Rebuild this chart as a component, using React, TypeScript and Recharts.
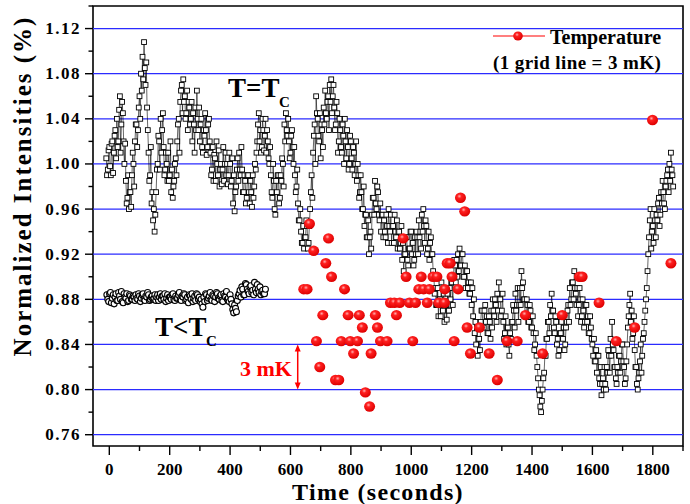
import React from "react";
import {
  ReferenceArea,
  ReferenceLine,
  Scatter,
  ScatterChart,
  XAxis,
  YAxis,
} from "recharts";

const FONT = '"Liberation Serif", "Times New Roman", serif';

// T = Tc run (open squares). Readings every 2.5 s from t = -10:
// tcIntensity holds the readings at -10, -5, 0, ... and tcIntensityB the ones in between.
const tcStart = -10;
const tcStep = 5;
const tcIntensity = [
  /* -10 */ 1.005, 0.995, 1.015, 0.99, 1.02, 1.01, 1.03, 1.04, 1.02, 1.06, 1.035, 1.045,
  /* 50 */ 1.0, 0.985, 0.97, 0.96, 0.975, 0.99,
  /* 80 */ 1.0, 1.02, 1.035,
  /* 95 */ 1.03, 1.06, 1.08, 1.095, 1.108, 1.07, 1.05,
  /* 130 */ 1.01, 0.99, 0.965, 0.95, 0.94, 0.975,
  /* 160 */ 1.0, 1.02, 1.04, 1.03, 1.015, 0.995, 1.0,
  /* 195 */ 1.01, 0.99, 0.975, 0.97, 0.985, 1.005,
  /* 225 */ 1.02, 1.04, 1.055, 1.07, 1.075, 1.06, 1.045, 1.03, 1.05,
  /* 270 */ 1.04, 1.02, 1.035, 1.05, 1.065, 1.03, 1.02, 1.04, 1.01, 1.025, 1.03, 1.015, 1.04,
  /* 335 */ 1.01, 0.995, 0.985, 1.005, 1.02, 0.99, 0.98, 1.0, 0.995, 0.985, 1.01, 1.0, 0.99,
  /* 400 */ 1.0, 0.985, 0.965, 0.958, 0.98, 1.005, 1.01, 0.99, 0.995, 0.975, 0.985, 0.97, 0.99, 0.965, 0.975, 0.99, 0.98, 0.995,
  /* 490 */ 1.02, 1.045, 1.03, 1.015, 1.03, 1.025, 1.01, 1.02, 1.0,
  /* 535 */ 0.99, 0.97, 0.985, 0.955, 0.975, 0.99, 0.97, 0.985, 1.0,
  /* 580 */ 1.035, 1.045, 1.025, 1.02, 1.01, 1.03, 1.0, 0.99, 0.98,
  /* 625 */ 0.965, 0.95, 0.94, 0.93, 0.925, 0.935, 0.945, 0.93,
  /* 665 */ 0.96, 0.99, 1.01, 1.035, 1.06, 1.04, 1.02, 1.005,
  /* 705 */ 1.03, 1.05, 1.065, 1.04, 1.06, 1.07, 1.075, 1.06, 1.05, 1.035, 1.045, 1.02,
  /* 765 */ 1.03, 1.01, 1.025, 1.04, 1.005, 1.015, 1.0, 1.02, 0.995, 1.01, 1.0, 0.985, 0.99, 0.975,
  /* 835 */ 0.975, 0.96, 0.945, 0.955, 0.935, 0.92, 0.94, 0.955, 0.97, 0.985, 0.96, 0.975, 0.95, 0.94, 0.955,
  /* 910 */ 0.95, 0.935, 0.945, 0.96, 0.94, 0.93, 0.945, 0.955, 0.935, 0.925, 0.94,
  /* 965 */ 0.93, 0.915, 0.905, 0.92, 0.935, 0.91, 0.925, 0.94, 0.93, 0.915, 0.92, 0.935, 0.95,
  /* 1030 */ 0.94, 0.955, 0.96, 0.93, 0.945, 0.925, 0.915, 0.935,
  /* 1070 */ 0.92, 0.9, 0.89, 0.875, 0.865, 0.88, 0.895, 0.87, 0.86, 0.875, 0.885, 0.87, 0.88, 0.895, 0.9, 0.91,
  /* 1150 */ 0.915, 0.92, 0.925, 0.91, 0.92, 0.9, 0.89, 0.905, 0.895, 0.885, 0.875,
  /* 1205 */ 0.865, 0.85, 0.84, 0.83, 0.845, 0.86, 0.87, 0.855, 0.875, 0.865, 0.85, 0.86,
  /* 1265 */ 0.87, 0.88, 0.865, 0.875, 0.885, 0.895, 0.88, 0.87, 0.86, 0.85, 0.84, 0.855, 0.83, 0.845, 0.86,
  /* 1340 */ 0.87, 0.885, 0.875, 0.86, 0.89, 0.905, 0.895, 0.88, 0.865, 0.875, 0.86, 0.87, 0.855, 0.85, 0.84,
  /* 1415 */ 0.83, 0.81, 0.795, 0.78, 0.8, 0.815, 0.83,
  /* 1450 */ 0.845, 0.86, 0.875, 0.885, 0.87, 0.85, 0.86, 0.845, 0.835, 0.85, 0.865, 0.855, 0.84, 0.86,
  /* 1520 */ 0.875, 0.89, 0.88, 0.895, 0.905, 0.885, 0.89, 0.875, 0.88, 0.865, 0.87, 0.86, 0.875, 0.865, 0.85,
  /* 1595 */ 0.855, 0.84, 0.845, 0.825, 0.815, 0.83, 0.805, 0.795, 0.81, 0.82, 0.8, 0.815, 0.83,
  /* 1660 */ 0.845, 0.86, 0.835, 0.82, 0.805, 0.815, 0.83, 0.825, 0.84, 0.82, 0.81,
  /* 1715 */ 0.84, 0.865, 0.885, 0.87, 0.85, 0.835, 0.82,
  /* 1750 */ 0.8, 0.815, 0.84, 0.83, 0.85, 0.87, 0.89, 0.92, 0.95,
  /* 1795 */ 0.925, 0.945, 0.96, 0.935, 0.95, 0.97, 0.955, 0.965, 0.975, 0.96, 0.985, 0.995, 1.0, 1.01, 0.99,
];
const tcIntensityB = [
  /* -7.5 */ 0.99, 1.012, 0.998, 1.018, 0.992, 1.025, 1.005, 1.015, 1.048, 1.01, 1.055, 1.02,
  /* 52.5 */ 1.018, 0.965, 0.99, 0.975, 0.962, 1.01,
  /* 82.5 */ 0.98, 1.035, 1.015,
  /* 97.5 */ 1.05, 1.04, 1.065, 1.075, 1.085, 1.09, 1.03,
  /* 132.5 */ 0.985, 1.015, 0.975, 0.96, 0.955, 0.995,
  /* 162.5 */ 1.025, 0.995, 1.01, 1.045, 0.99, 1.01, 0.985,
  /* 197.5 */ 0.985, 1.02, 0.995, 0.98, 1.0, 0.99,
  /* 227.5 */ 1.035, 1.01, 1.065, 1.045, 1.055, 1.04, 1.065, 1.055, 1.035,
  /* 272.5 */ 1.055, 1.045, 1.01, 1.03, 1.04, 1.05, 1.035, 1.015, 1.03, 1.045, 1.008, 1.035, 1.02,
  /* 337.5 */ 0.99, 1.015, 1.008, 0.985, 1.0, 1.012, 0.995, 0.982, 1.015, 1.0, 0.99, 0.982, 1.01,
  /* 402.5 */ 0.98, 1.005, 0.99, 0.975, 0.995, 0.985, 0.995, 1.015, 0.975, 0.99, 0.965, 0.99, 0.975, 0.985, 0.962, 0.97, 1.0, 1.01,
  /* 492.5 */ 1.035, 1.02, 1.01, 1.04, 1.012, 1.04, 1.03, 1.005, 1.015,
  /* 537.5 */ 0.975, 1.0, 0.96, 0.985, 0.99, 0.965, 0.99, 1.005, 0.98,
  /* 582.5 */ 1.02, 1.03, 1.04, 1.005, 1.025, 1.015, 1.015, 0.975, 0.995,
  /* 627.5 */ 0.95, 0.96, 0.93, 0.945, 0.935, 0.95, 0.925, 0.945,
  /* 667.5 */ 0.975, 0.97, 1.025, 1.0, 1.045, 1.025, 1.045, 1.035,
  /* 707.5 */ 1.015, 1.035, 1.045, 1.055, 1.03, 1.055, 1.045, 1.07, 1.03, 1.055, 1.01, 1.04,
  /* 767.5 */ 1.015, 1.035, 1.0, 1.02, 1.03, 0.995, 1.025, 1.005, 1.015, 0.99, 1.02, 1.0, 0.97, 0.99,
  /* 837.5 */ 0.96, 0.98, 0.955, 0.935, 0.95, 0.935, 0.925, 0.97, 0.955, 0.965, 0.98, 0.955, 0.965, 0.955, 0.935,
  /* 912.5 */ 0.94, 0.955, 0.93, 0.945, 0.955, 0.945, 0.93, 0.94, 0.95, 0.94, 0.925,
  /* 967.5 */ 0.945, 0.93, 0.92, 0.935, 0.915, 0.925, 0.94, 0.92, 0.91, 0.935, 0.94, 0.92, 0.935,
  /* 1032.5 */ 0.925, 0.94, 0.945, 0.95, 0.92, 0.94, 0.93, 0.92,
  /* 1072.5 */ 0.905, 0.885, 0.875, 0.89, 0.88, 0.865, 0.875, 0.885, 0.875, 0.862, 0.87, 0.89, 0.895, 0.875, 0.915, 0.895,
  /* 1152.5 */ 0.9, 0.905, 0.91, 0.92, 0.9, 0.91, 0.905, 0.89, 0.885, 0.895, 0.89,
  /* 1207.5 */ 0.88, 0.86, 0.855, 0.845, 0.835, 0.87, 0.855, 0.87, 0.86, 0.85, 0.865, 0.845,
  /* 1267.5 */ 0.855, 0.87, 0.88, 0.86, 0.87, 0.88, 0.865, 0.885, 0.845, 0.865, 0.855, 0.84, 0.85, 0.86, 0.875,
  /* 1342.5 */ 0.855, 0.87, 0.89, 0.875, 0.875, 0.89, 0.88, 0.865, 0.88, 0.86, 0.875, 0.855, 0.865, 0.835, 0.85,
  /* 1417.5 */ 0.82, 0.8, 0.785, 0.79, 0.81, 0.83, 0.845,
  /* 1452.5 */ 0.86, 0.85, 0.865, 0.87, 0.855, 0.865, 0.84, 0.83, 0.85, 0.86, 0.845, 0.835, 0.855, 0.87,
  /* 1522.5 */ 0.86, 0.875, 0.895, 0.88, 0.89, 0.875, 0.865, 0.89, 0.86, 0.88, 0.855, 0.875, 0.86, 0.85, 0.865,
  /* 1597.5 */ 0.845, 0.83, 0.825, 0.835, 0.83, 0.81, 0.82, 0.805, 0.8, 0.805, 0.82, 0.835, 0.815,
  /* 1662.5 */ 0.83, 0.84, 0.82, 0.81, 0.82, 0.83, 0.815, 0.84, 0.825, 0.805, 0.825,
  /* 1717.5 */ 0.855, 0.875, 0.86, 0.845, 0.865, 0.82, 0.805,
  /* 1752.5 */ 0.81, 0.825, 0.815, 0.845, 0.86, 0.88, 0.905, 0.935, 0.96,
  /* 1797.5 */ 0.94, 0.93, 0.95, 0.955, 0.965, 0.945, 0.975, 0.985, 0.965, 0.98, 0.99, 0.975, 0.985, 0.995, 0.98,
];

// T < Tc run (open circles). Readings every 3 s from t = -8, split the same way.
const lowStart = -8;
const lowStep = 6;
const lowIntensity = [
  /* -8 */ 0.884, 0.878, 0.886, 0.881, 0.876, 0.885, 0.879, 0.883, 0.887, 0.877, 0.882, 0.885, 0.879, 0.883, 0.88,
  /* 82 */ 0.882, 0.884, 0.88, 0.883, 0.881, 0.885, 0.879, 0.882, 0.884, 0.88, 0.883, 0.881, 0.879, 0.884, 0.882,
  0.88, 0.883, 0.885, 0.881, 0.879, 0.882, 0.884, 0.88, 0.883, 0.881, 0.886, 0.879, 0.882, 0.884, 0.88, 0.877,
  0.883, 0.885, 0.881, 0.879, 0.884, 0.882,
  /* 304 */ 0.88, 0.873, 0.878, 0.884, 0.881, 0.886, 0.879, 0.883, 0.882, 0.885, 0.88, 0.884, 0.878, 0.883, 0.887, 0.881, 0.884,
  /* 406 */ 0.876, 0.868, 0.872, 0.879,
  /* 430 */ 0.885, 0.882, 0.889, 0.884, 0.893, 0.887, 0.891, 0.886, 0.884, 0.889, 0.893, 0.886, 0.884, 0.888, 0.885,
];
const lowIntensityB = [
  /* -5 */ 0.88, 0.885, 0.877, 0.884, 0.882, 0.879, 0.886, 0.88, 0.878, 0.885, 0.881, 0.878, 0.884, 0.88, 0.883,
  /* 85 */ 0.879, 0.881, 0.885, 0.878, 0.884, 0.88, 0.883, 0.886, 0.879, 0.882, 0.88, 0.884, 0.882, 0.879, 0.885,
  0.883, 0.88, 0.878, 0.884, 0.882, 0.88, 0.885, 0.879, 0.881, 0.884, 0.88, 0.883, 0.885, 0.879, 0.882, 0.884,
  0.88, 0.878, 0.883, 0.885, 0.88, 0.878,
  /* 307 */ 0.876, 0.882, 0.885, 0.879, 0.883, 0.88, 0.884, 0.878, 0.886, 0.881, 0.883, 0.879, 0.885, 0.882, 0.88, 0.878, 0.88,
  /* 409 */ 0.871, 0.875, 0.869, 0.883,
  /* 433 */ 0.888, 0.891, 0.884, 0.894, 0.889, 0.885, 0.892, 0.888, 0.895, 0.886, 0.889, 0.891, 0.887, 0.885, 0.889,
];

// temperature readings (red), plotted on the intensity scale
const tempTimes = [
  644, 655, 663, 677, 686, 697, 707, 717, 726, 736,
  749, 760, 768, 779, 791, 798, 809, 822, 828, 838,
  848, 862, 867, 881, 888, 898, 920, 931, 944, 951,
  962, 973, 983, 994, 1005, 1014, 1025, 1033, 1041, 1053,
  1060, 1072, 1085, 1091, 1110, 1111, 1119, 1129, 1135, 1142,
  1155, 1163, 1177, 1185, 1196, 1226, 1258, 1285, 1317, 1351,
  1378, 1435, 1500, 1557, 1566, 1622, 1679, 1740, 1799, 1860,
];
const tempValues = [
  0.889, 0.889, 0.947, 0.923, 0.843, 0.82, 0.866, 0.912, 0.934, 0.9,
  0.8085, 0.8085, 0.843, 0.889, 0.866, 0.843, 0.832, 0.843, 0.866, 0.855,
  0.7975, 0.785, 0.832, 0.866, 0.855, 0.843, 0.843, 0.877, 0.877, 0.866,
  0.877, 0.934, 0.9, 0.877, 0.843, 0.877, 0.889, 0.9, 0.889, 0.877,
  0.889, 0.9, 0.9, 0.877, 0.877, 0.889, 0.912, 0.912, 0.9, 0.843,
  0.889, 0.97, 0.958, 0.855, 0.832, 0.855, 0.832, 0.8085, 0.843, 0.843,
  0.866, 0.832, 0.866, 0.9, 0.9, 0.877, 0.843, 0.855, 1.039, 0.912,
];

const xTicks = [0, 100, 200, 300, 400, 500, 600, 700, 800, 900, 1000, 1100, 1200, 1300, 1400, 1500, 1600, 1700, 1800, 1900];
const yTicks = [0.76, 0.78, 0.8, 0.82, 0.84, 0.86, 0.88, 0.9, 0.92, 0.94, 0.96, 0.98, 1.0, 1.02, 1.04, 1.06, 1.08, 1.1, 1.12, 1.14];
const yGrid = [0.76, 0.8, 0.84, 0.88, 0.92, 0.96, 1.0, 1.04, 1.08, 1.12];

function interleave(start: number, step: number, a: number[], b: number[]) {
  const out: { t: number; v: number }[] = [];
  a.forEach((v, i) => {
    out.push({ t: start + i * step, v });
    if (i < b.length) out.push({ t: start + i * step + step / 2, v: b[i] });
  });
  return out;
}

const tcData = interleave(tcStart, tcStep, tcIntensity, tcIntensityB);
const lowData = interleave(lowStart, lowStep, lowIntensity, lowIntensityB);
const tempData = tempTimes.map((t, i) => ({ t, v: tempValues[i] }));

function XTick({ x, y, payload }: any) {
  const major = payload.value % 200 === 0;
  return (
    <g>
      <line x1={x} x2={x} y1={y} y2={y + (major ? 9 : 5)} stroke="#000" strokeWidth={1.4} />
      {major && (
        <text x={x} y={y + 29} textAnchor="middle" fontFamily={FONT} fontWeight="bold" fontSize={17} fill="#000">
          {payload.value}
        </text>
      )}
    </g>
  );
}

function YTick({ x, y, payload }: any) {
  const v = payload.value;
  const major = Math.round(v * 100) % 4 === 0;
  return (
    <g>
      <line x1={x} x2={x - (major ? 8 : 4.5)} y1={y} y2={y} stroke="#000" strokeWidth={1.4} />
      {major && (
        <text x={x - 12} y={y + 5.5} textAnchor="end" fontFamily={FONT} fontWeight="bold" fontSize={17} letterSpacing={1.5} fill="#000">
          {v.toFixed(2)}
        </text>
      )}
    </g>
  );
}

const SquareMark = (p: any) => (
  <rect x={p.cx - 2.4} y={p.cy - 2.4} width={4.8} height={4.8} fill="#fff" stroke="#000" strokeWidth={0.9} />
);

const CircleMark = (p: any) => (
  <circle cx={p.cx} cy={p.cy} r={3} fill="#fff" stroke="#000" strokeWidth={1.1} />
);

const BallMark = (p: any) => (
  <ellipse cx={p.cx} cy={p.cy} rx={5.5} ry={5.2} fill="url(#redBall)" />
);

function DoubleArrow(p: any) {
  const { x1, y1, y2 } = p;
  const top = Math.min(y1, y2);
  const bot = Math.max(y1, y2);
  return (
    <g>
      <line x1={x1} x2={x1} y1={top + 4} y2={bot - 4} stroke="#ff0000" strokeWidth={1.5} />
      <path d={`M${x1},${top} L${x1 - 3},${top + 7} L${x1 + 3},${top + 7} Z`} fill="#ff0000" />
      <path d={`M${x1},${bot} L${x1 - 3},${bot - 7} L${x1 + 3},${bot - 7} Z`} fill="#ff0000" />
    </g>
  );
}

export default function App() {
  return (
    <div style={{ position: "absolute", left: 0, top: 0, width: 690, height: 504, background: "#fff" }}>
      <ScatterChart width={690} height={504} margin={{ top: 6, right: 7, left: 0, bottom: 0 }}>
        {yGrid.map((g) => (
          <ReferenceLine key={g} y={g} stroke="#2b2bff" strokeWidth={1.2} />
        ))}
        <XAxis
          type="number"
          dataKey="t"
          domain={[-54, 1900]}
          ticks={xTicks}
          interval={0}
          allowDataOverflow
          height={58}
          axisLine={false}
          tickLine={false}
          tickSize={0}
          tickMargin={0}
          tick={<XTick />}
        />
        <YAxis
          type="number"
          dataKey="v"
          domain={[0.75, 1.14]}
          ticks={yTicks}
          interval={0}
          allowDataOverflow
          width={93}
          axisLine={false}
          tickLine={false}
          tickSize={0}
          tickMargin={0}
          tick={<YTick />}
        />
        <Scatter
          data={tcData}
          shape={SquareMark}
          line={{ stroke: "#000", strokeWidth: 0.6 }}
          lineType="joint"
          isAnimationActive={false}
        />
        <Scatter
          data={lowData}
          shape={CircleMark}
          line={{ stroke: "#000", strokeWidth: 0.5 }}
          lineType="joint"
          isAnimationActive={false}
        />
        <Scatter data={tempData} shape={BallMark} isAnimationActive={false} />
        <ReferenceLine segment={[{ x: 624, y: 0.8 }, { x: 624, y: 0.84 }]} shape={DoubleArrow} />
        <ReferenceArea x1={-54} x2={1900} y1={0.75} y2={1.14} fill="none" stroke="#000" strokeWidth={1.6} />
      </ScatterChart>

      <svg
        width={690}
        height={504}
        style={{ position: "absolute", left: 0, top: 0, pointerEvents: "none" }}
        fontFamily={FONT}
        fontWeight="bold"
      >
        <defs>
          <radialGradient id="redBall" cx="40%" cy="35%" r="65%">
            <stop offset="0%" stopColor="#ffb0b0" />
            <stop offset="30%" stopColor="#ff2020" />
            <stop offset="100%" stopColor="#dd0000" />
          </radialGradient>
        </defs>

        {/* legend */}
        <line x1={493} x2={545} y1={36} y2={36} stroke="#ff0000" strokeWidth={1.2} />
        <ellipse cx={518} cy={36} rx={4.8} ry={4.5} fill="url(#redBall)" />
        <text x={550} y={44} fontSize={20} fill="#000">Temperature</text>
        <text x={493} y={69} fontSize={19} letterSpacing={0.4} fill="#000">(1 grid line = 3 mK)</text>

        {/* annotations */}
        <text x={228} y={97} fontSize={27} fill="#000">T=T</text>
        <text x={279} y={107} fontSize={15} fill="#000">C</text>
        <text x={155} y={336} fontSize={27} fill="#000">T&lt;T</text>
        <text x={206} y={346} fontSize={15} fill="#000">C</text>
        <text x={240} y={376} fontSize={22} fill="#ff0000">3 mK</text>

        {/* axis titles */}
        <text x={378} y={500} fontSize={24} letterSpacing={1.3} textAnchor="middle" fill="#000">
          Time (seconds)
        </text>
        <text
          transform="translate(31,186) rotate(-90)"
          fontSize={25}
          letterSpacing={2}
          textAnchor="middle"
          fill="#000"
        >
          Normalized Intensities (%)
        </text>
      </svg>
    </div>
  );
}
